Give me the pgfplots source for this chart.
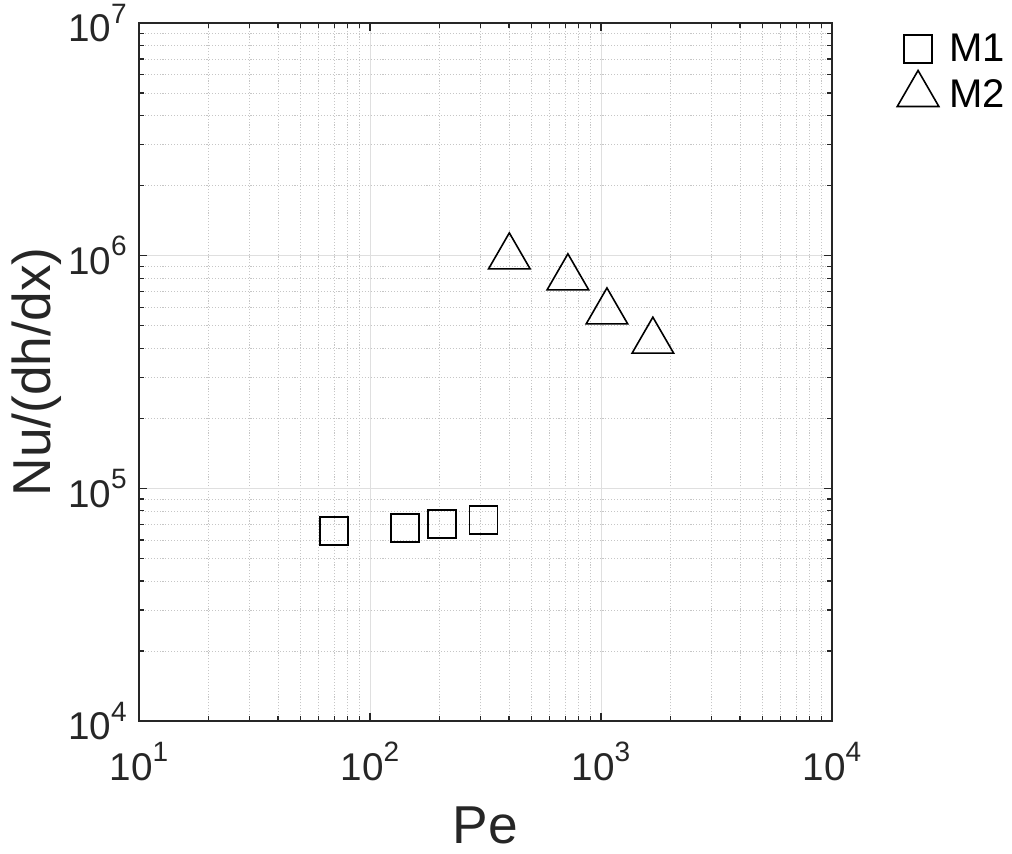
\documentclass[border=0pt]{standalone}
\usepackage{fontspec}
\setmainfont{Liberation Sans}
\usepackage{pgfplots}
\pgfplotsset{compat=1.18}
\definecolor{axgray}{RGB}{38,38,38}
% power-of-ten tick label set in the text font
\newcommand\pw[1]{10\raisebox{0.48em}{\fontsize{21}{24}\selectfont #1}}

\begin{document}
\begin{tikzpicture}
\path[use as bounding box] (-104.25pt,-99pt) rectangle (654.75pt,540.75pt);
\begin{axis}[
  at={(0pt,0pt)}, anchor=south west,
  scale only axis, width=519.75pt, height=523.5pt,
  xmode=log, ymode=log,
  xmin=10, xmax=10000, ymin=1e4, ymax=1e7,
  xtick={10,100,1000,10000},
  xticklabels={\pw{1},\pw{2},\pw{3},\pw{4}},
  ytick={1e4,1e5,1e6,1e7},
  yticklabels={\pw{4},\pw{5},\pw{6},\pw{7}},
  minor xtick={20,30,40,50,60,70,80,90,200,300,400,500,600,700,800,900,2000,3000,4000,5000,6000,7000,8000,9000},
  minor ytick={2e4,3e4,4e4,5e4,6e4,7e4,8e4,9e4,2e5,3e5,4e5,5e5,6e5,7e5,8e5,9e5,2e6,3e6,4e6,5e6,6e6,7e6,8e6,9e6},
  grid=both,
  major grid style={draw=gray!25, line width=0.6pt},
  minor grid style={draw=gray!45, line width=0.5pt, dash pattern=on 0.8pt off 1.4pt},
  axis line style={draw=axgray, line width=1pt},
  tick style={draw=axgray, line width=0.9pt},
  major tick length=6pt, minor tick length=3.5pt,
  tick align=inside,
  ticklabel style={font=\fontsize{29}{34}\selectfont, text=axgray},
  xticklabel style={anchor=north, inner sep=0pt, yshift=-15.75pt},
  yticklabel style={anchor=east, inner sep=0pt, xshift=-9pt},
  xlabel={Pe}, ylabel={Nu/(dh/dx)},
  label style={font=\fontsize{40}{48}\selectfont, text=axgray},
  xlabel style={at={(axis description cs:0.5,-0.175)}, anchor=base, inner sep=0pt},
  ylabel style={at={(axis description cs:-0.127,0.5)}, anchor=base, inner sep=0pt},
  legend style={at={(axis description cs:1.0938,0.9842)}, anchor=north west,
    draw=none, fill=none, inner sep=0pt,
    font=\fontsize{30}{36}\selectfont, text=black,
    row sep=5pt, column sep=8pt, nodes={inner sep=0pt}},
  legend cell align=left,
  legend image code/.code={\draw[#1] plot coordinates {(0pt,0pt)};},
]
% M1 series
\addplot[only marks, mark=square, mark size=10.5pt,
  mark options={draw=black, line width=1.2pt, fill=none}]
  coordinates {(69.9,6.54e4) (142.1,6.76e4) (205,7.03e4) (310.6,7.33e4)};
\addlegendentry{M1}
% M2 series
\addplot[only marks, mark=triangle, mark size=18pt,
  mark options={draw=black, line width=1.2pt, fill=none}]
  coordinates {(401,9.88e5) (719,8.03e5) (1061,5.73e5) (1677,4.29e5)};
\addlegendentry{M2}
\end{axis}
\end{tikzpicture}
\end{document}
